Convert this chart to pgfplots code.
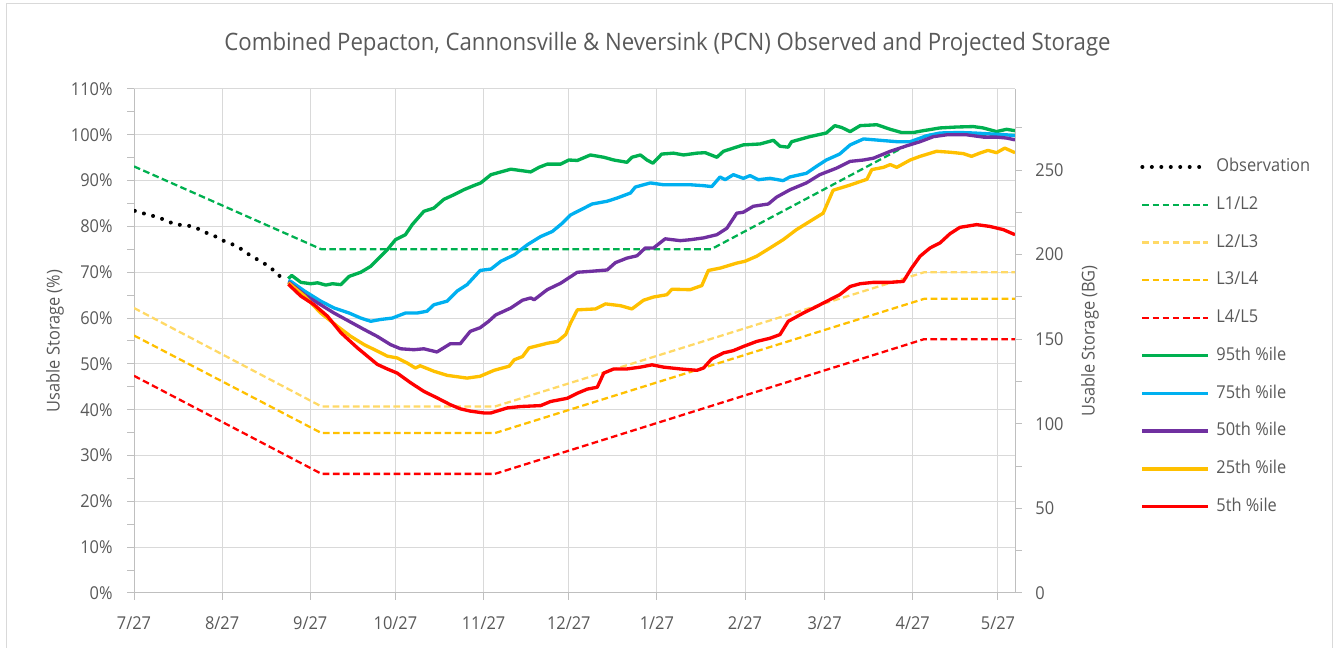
\documentclass[border=0pt]{standalone}
\usepackage{fontspec}
\setmainfont{Open Sans}[FakeStretch=0.925]
\usepackage{pgfplots}
\usepackage{pgfplotstable}
\pgfplotsset{compat=1.18}
\definecolor{txt}{HTML}{595959}
\definecolor{grd}{HTML}{D9D9D9}
\definecolor{axl}{HTML}{BFBFBF}
\definecolor{cgreen}{HTML}{00B050}
\definecolor{cblue}{HTML}{00B0F0}
\definecolor{cpurple}{HTML}{7030A0}
\definecolor{corange}{HTML}{FFC000}
\definecolor{clight}{HTML}{FFD966}
\definecolor{cred}{HTML}{FF0000}

% x = days after 7/27
\pgfplotstableread{
x y
0.3 83.4
1.2 83.3
4.6 82.6
8.0 82.1
11.3 81.3
14.6 80.4
17.9 80.3
21.3 79.9
24.6 78.8
27.8 78.1
31.0 77.0
34.3 76.2
37.4 75.2
40.4 73.9
43.4 72.8
46.4 71.7
49.4 70.3
52.2 68.6
}\obs

\pgfplotstableread{
x y
0 93.1
66 75.0
203 75.0
279 100.0
310 100.0
}\lonetwo

\pgfplotstableread{
x y
0 62.2
66 40.7
127 40.7
278 70.0
310 70.0
}\ltwothree

\pgfplotstableread{
x y
0 56.2
66 34.9
127 34.9
278 64.2
310 64.2
}\lthreefour

\pgfplotstableread{
x y
0 47.4
66 26.0
127 26.0
278 55.4
310 55.4
}\lfourfive

\pgfplotstableread{
x y
54.3 68.6
55.5 69.3
58.7 67.8
62.2 67.5
64.6 67.7
67.5 67.2
69.8 67.5
72.8 67.3
75.7 69.1
79.8 70.0
83.3 71.3
86.8 73.5
89.1 74.9
92.0 77.1
95.5 78.2
97.9 80.4
102.0 83.3
105.5 84.0
109.0 85.9
112.5 86.9
116.0 88.0
119.5 88.9
122.0 89.5
125.6 91.3
132.6 92.5
139.6 91.9
142.5 92.9
145.4 93.6
150.1 93.6
153.0 94.5
156.0 94.4
160.6 95.6
165.3 95.1
168.8 94.5
173.5 94.0
175.2 95.1
178.2 95.6
180.5 94.5
182.6 93.8
185.7 95.8
189.8 96.0
193.4 95.6
198.1 96.0
201.0 96.1
205.1 95.1
207.4 96.4
214.4 97.8
220.3 98.0
225.0 98.8
227.3 97.5
230.2 97.3
231.4 98.5
237.8 99.6
243.6 100.4
246.6 102.0
249.0 101.6
252.0 100.7
255.5 102.0
261.4 102.2
266.1 101.2
270.1 100.5
274.2 100.5
277.7 100.9
283.6 101.5
289.4 101.7
295.3 101.8
298.8 101.5
303.5 100.7
307.0 101.2
310.0 100.9
}\pninetyfive

\pgfplotstableread{
x y
54.3 68.2
55.2 68.0
60.0 65.9
65.7 63.7
70.4 62.2
75.7 61.1
79.8 60.0
83.3 59.3
86.8 59.7
90.9 60.0
95.5 61.1
99.6 61.1
103.1 61.5
105.5 62.9
110.2 63.7
113.7 65.9
117.2 67.3
121.8 70.4
125.6 70.7
129.1 72.4
133.8 73.8
138.4 76.0
143.1 77.8
147.2 78.9
150.7 80.7
153.6 82.5
157.1 83.6
161.2 84.9
166.5 85.5
170.0 86.2
174.7 87.3
176.4 88.6
181.7 89.5
186.3 89.1
192.2 89.1
195.7 89.1
200.4 88.9
203.3 88.7
206.2 90.8
208.0 90.2
210.9 91.3
214.4 90.5
216.8 91.1
219.7 90.2
223.8 90.5
228.4 90.0
230.8 90.8
236.6 91.6
240.1 93.1
243.6 94.5
248.3 95.8
252.0 97.8
256.7 99.1
262.5 98.8
268.4 98.5
273.1 98.5
279.0 99.8
283.6 100.4
290.6 100.5
295.3 100.4
301.2 100.2
307.0 100.0
310.0 99.8
}\pseventyfive

\pgfplotstableread{
x y
54.3 67.9
60.0 65.1
65.7 62.9
70.4 61.1
75.7 59.3
81.0 57.5
85.6 56.0
90.3 54.2
93.8 53.3
98.5 53.1
102.0 53.3
106.6 52.6
111.3 54.4
114.8 54.4
118.3 57.1
121.8 57.9
124.8 59.3
127.3 60.7
132.6 62.2
136.7 63.9
139.6 64.4
140.8 64.0
145.4 66.2
150.1 67.6
156.0 70.0
160.6 70.2
166.5 70.5
169.4 72.1
173.5 73.1
177.0 73.6
179.9 75.3
182.8 75.3
186.9 77.3
192.2 76.9
195.7 77.1
200.4 77.5
205.1 78.2
208.6 79.6
212.1 82.9
214.4 83.1
217.9 84.4
223.2 84.9
226.1 86.4
230.8 88.0
236.6 89.5
241.3 91.3
247.1 92.7
252.0 94.2
256.7 94.5
260.2 94.9
266.1 96.4
271.9 97.6
276.6 98.5
281.3 99.6
286.0 100.0
293.0 100.0
298.9 99.5
303.5 99.5
307.0 99.3
310.0 98.9
}\pfifty

\pgfplotstableread{
x y
54.3 67.7
60.0 64.8
65.7 61.1
71.6 58.2
76.3 56.0
81.0 54.2
85.6 52.8
89.1 51.7
92.6 51.3
96.1 50.2
99.0 49.1
100.7 49.6
105.5 48.4
110.2 47.5
113.7 47.2
117.2 46.9
121.8 47.3
126.7 48.6
132.0 49.5
133.8 50.9
136.7 51.6
139.0 53.5
145.4 54.5
149.0 54.9
151.9 56.4
153.6 58.9
156.0 61.8
162.4 62.0
165.9 63.1
171.2 62.7
175.2 62.0
179.3 63.9
182.8 64.6
187.5 65.1
189.3 66.3
195.7 66.2
199.8 67.1
202.1 70.4
206.2 70.9
212.1 72.0
215.0 72.4
219.1 73.5
223.8 75.3
228.4 77.1
233.1 79.3
237.8 81.1
242.5 82.9
246.0 87.9
251.8 89.0
257.9 90.3
259.6 92.4
263.7 92.9
266.1 93.5
268.4 92.9
273.1 94.5
276.6 95.3
282.4 96.4
287.1 96.2
291.8 95.9
294.7 95.3
297.6 96.0
300.5 96.6
303.5 96.1
306.4 97.1
310.0 96.1
}\ptwentyfive

\pgfplotstableread{
x y
54.3 67.4
58.7 64.8
63.4 62.9
68.1 60.4
72.8 56.8
78.6 53.5
82.1 51.7
85.6 49.9
89.1 48.9
92.6 48.0
97.3 45.9
102.0 44.0
106.6 42.6
111.3 41.1
114.8 40.2
118.3 39.7
123.0 39.3
125.6 39.3
131.4 40.4
136.1 40.7
143.1 40.9
146.6 41.8
152.5 42.5
156.0 43.6
159.5 44.5
163.0 44.9
165.3 48.0
168.8 48.9
173.5 48.9
178.2 49.3
182.3 49.8
186.3 49.3
192.2 48.9
198.1 48.6
200.4 49.1
203.3 51.1
207.4 52.4
210.9 52.9
214.4 53.8
219.1 54.9
223.8 55.6
227.3 56.4
230.2 59.3
235.5 61.1
240.1 62.5
244.8 64.0
248.3 65.1
252.0 66.9
255.5 67.5
260.2 67.8
266.1 67.8
270.7 68.0
273.6 70.9
276.6 73.5
280.1 75.3
283.6 76.4
287.1 78.4
290.6 79.8
296.5 80.4
301.2 80.0
305.9 79.3
310.0 78.2
}\pfive

\begin{document}
\begin{tikzpicture}
\useasboundingbox (0,0) rectangle (999.75pt,486pt);
\draw[grd, line width=0.75pt] (4.5pt,-10pt) rectangle (999pt,483pt);
\begin{axis}[
  at={(100.5pt,41.25pt)}, anchor=south west,
  width=660.75pt, height=378pt, scale only axis,
  xmin=0, xmax=310, ymin=0, ymax=110,
  axis x line*=bottom, axis y line*=left,
  axis line style={-, axl, line width=0.75pt},
  tick style={axl, line width=0.75pt},
  major tick length=5pt, minor tick length=5pt,
  tick align=outside,
  xtick={0,31,62,92,123,153,184,215,243,274,304},
  xticklabels={7/27,8/27,9/27,10/27,11/27,12/27,1/27,2/27,3/27,4/27,5/27},
  ytick={0,10,...,110},
  minor ytick={5,15,...,105},
  /pgf/number format/assume math mode=true,
  /pgf/number format/fixed, /pgf/number format/precision=0,
  yticklabel={\pgfmathprintnumber{\tick}\%},
  ticklabel style={font=\fontsize{13.3}{16}\selectfont, text=txt},
  yticklabel style={xshift=-7.5pt},
  xticklabel style={yshift=-9pt},
  grid=major,
  major grid style={grd, line width=0.75pt},
  title={Combined Pepacton, Cannonsville \& Neversink (PCN) Observed and Projected Storage},
  title style={at={(axis description cs:0.6056,1.073)}, anchor=center,
    font=\fontsize{18}{21}\selectfont, text=txt},
  ylabel={Usable Storage (\%)},
  every axis y label/.style={at={(axis description cs:-0.0897,0.5)}, rotate=90, anchor=center,
    font=\fontsize{13.3}{16}\selectfont, text=txt},
  legend image code/.code={\draw[#1] (0pt,0pt) -- (49.5pt,0pt);},
  legend cell align=left,
  legend style={at={(axis description cs:1.142,0.863)}, anchor=north west,
    draw=none, fill=none, inner sep=0pt, row sep=15.3pt,
    font=\fontsize{13.3}{16}\selectfont, text=txt,
    nodes={inner sep=0pt, text height=10pt, text depth=3pt},
    /tikz/every odd column/.append style={column sep=4.5pt}},
]
\addplot[black, line width=3pt, line cap=round, dash pattern=on 0pt off 7.1pt] table {\obs};
\addlegendentry{Observation}
\addplot[cgreen, line width=1.7pt, dash pattern=on 5pt off 2.6pt] table {\lonetwo};
\addlegendentry{L1/L2}
\addplot[clight, line width=1.7pt, dash pattern=on 5pt off 2.6pt] table {\ltwothree};
\addlegendentry{L2/L3}
\addplot[corange, line width=1.7pt, dash pattern=on 5pt off 2.6pt] table {\lthreefour};
\addlegendentry{L3/L4}
\addplot[cred, line width=1.7pt, dash pattern=on 5pt off 2.6pt] table {\lfourfive};
\addlegendentry{L4/L5}
\addplot[cgreen, line width=2.5pt, line join=round] table {\pninetyfive};
\addlegendentry{95th \%ile}
\addplot[cblue, line width=2.5pt, line join=round] table {\pseventyfive};
\addlegendentry{75th \%ile}
\addplot[cpurple, line width=2.5pt, line join=round] table {\pfifty};
\addlegendentry{50th \%ile}
\addplot[corange, line width=2.5pt, line join=round] table {\ptwentyfive};
\addlegendentry{25th \%ile}
\addplot[cred, line width=2.5pt, line join=round] table {\pfive};
\addlegendentry{5th \%ile}
\end{axis}
\begin{axis}[
  at={(100.5pt,41.25pt)}, anchor=south west,
  width=660.75pt, height=378pt, scale only axis,
  xmin=0, xmax=310, ymin=0, ymax=297.9,
  axis x line=none, axis y line*=right,
  axis line style={-, axl, line width=0.75pt},
  tick style={axl, line width=0.75pt},
  major tick length=5pt, minor tick length=5pt,
  tick align=outside,
  ytick={0,50,...,250},
  minor ytick={25,75,...,275},
  /pgf/number format/assume math mode=true,
  ticklabel style={font=\fontsize{13.3}{16}\selectfont, text=txt},
  yticklabel style={xshift=6.75pt},
  ylabel={Usable Storage (BG)},
  every axis y label/.style={at={(axis description cs:1.085,0.5)}, rotate=90, anchor=center,
    font=\fontsize{13.3}{16}\selectfont, text=txt},
]
\end{axis}
\end{tikzpicture}
\end{document}
